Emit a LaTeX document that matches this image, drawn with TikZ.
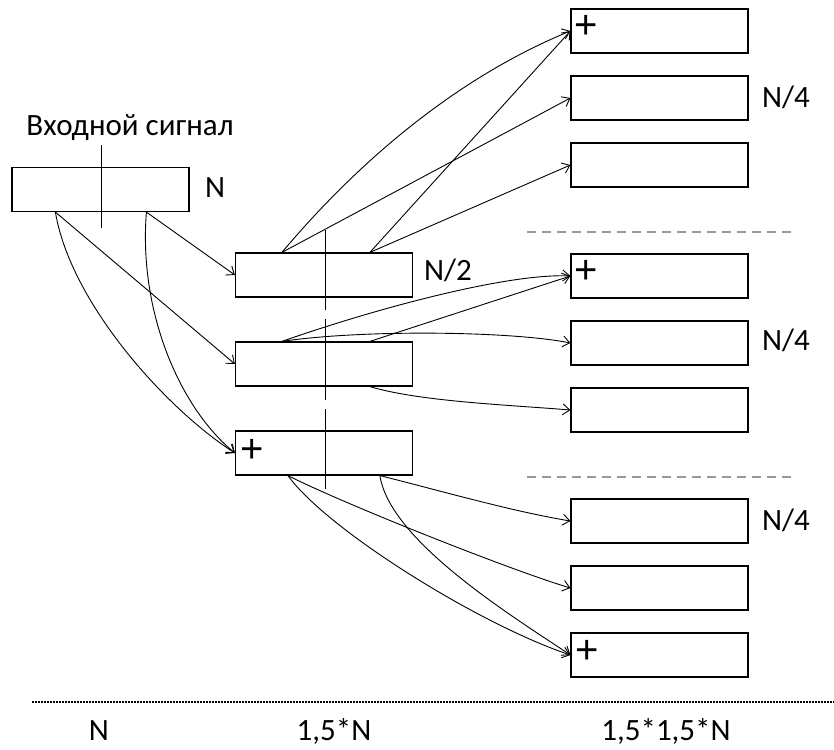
\documentclass[tikz,border=0pt]{standalone}
\usepackage{fontspec}
\setmainfont{Carlito}
\newfontfamily\plusfont{Liberation Sans}
\usetikzlibrary{arrows.meta}
\begin{document}
\begin{tikzpicture}[x=1pt,y=-1pt,
  blk/.style={draw, line width=1.2pt, minimum width=177pt, minimum height=44pt, inner sep=0pt},
  lbl/.style={font=\fontsize{31}{34}\selectfont, inner sep=0pt},
  plus/.style={font=\plusfont\fontsize{40}{42}\selectfont, inner sep=0pt},
  arr/.style={line width=0.9pt, -{Straight Barb[length=7pt,width=11pt,line width=0.9pt]}},
  sep/.style={draw=black!40, line width=1.6pt, dash pattern=on 9pt off 6pt},
  axis/.style={line width=2pt, dash pattern=on 1.5pt off 1.5pt},
  cut/.style={line width=1pt}]
\useasboundingbox (0,0) rectangle (834,749);
% left box
\node[blk] (L) at (100.5,189.5) {};
\node[lbl] (inlbl) at (130,128) {Входной сигнал};
\node[lbl, anchor=west] (nL) at (205,188) {N};
\coordinate (Lt) at (101,145);
\coordinate (Lbt) at (101,228);
\draw[cut] (Lt) -- (Lbt);
% middle boxes
\node[blk] (M1) at (324,275) {};
\node[blk] (M2) at (324,364) {};
\node[blk] (M3) at (324,453) {};
\node[lbl, anchor=west] (nM) at (424,270) {N/2};
\node[plus] (pM) at (252,451) {+};
\coordinate (c1a) at (325,230); \coordinate (c1b) at (325,310);
\coordinate (c2a) at (325,319); \coordinate (c2b) at (325,400);
\coordinate (c3a) at (325,409); \coordinate (c3b) at (325,489);
\draw[cut] (c1a) -- (c1b);
\draw[cut] (c2a) -- (c2b);
\draw[cut] (c3a) -- (c3b);
% right boxes
\foreach \i/\y in {1/31,2/98,3/165,4/276,5/343,6/410,7/521,8/588,9/655}
  \node[blk] (R\i) at (659.5,\y) {};
\node[plus] (p1) at (586,27) {+};
\node[plus] (p4) at (586,272) {+};
\node[plus] (p9) at (587,652) {+};
\node[lbl, anchor=west] (n1) at (762,97) {N/4};
\node[lbl, anchor=west] (n2) at (762,340) {N/4};
\node[lbl, anchor=west] (n3) at (762,520) {N/4};
% gray separators
\coordinate (s1a) at (527,232); \coordinate (s1b) at (792,232);
\coordinate (s2a) at (527,477); \coordinate (s2b) at (792,477);
\draw[sep] (s1a) -- (s1b);
\draw[sep] (s2a) -- (s2b);
% connection points
\coordinate (La) at ([xshift=44pt]L.south west);
\coordinate (Lb) at ([xshift=135pt]L.south west);
\coordinate (Ma1) at ([xshift=47pt]M1.north west);
\coordinate (Mb1) at ([xshift=135pt]M1.north west);
\coordinate (Ma2) at ([xshift=47pt]M2.north west);
\coordinate (Mb2) at ([xshift=135pt]M2.north west);
\coordinate (Mc2) at ([xshift=135pt]M2.south west);
\coordinate (Ma3) at ([xshift=53pt]M3.south west);
\coordinate (Mb3) at ([xshift=145pt]M3.south west);
% left -> middle
\draw[arr] (Lb) -- (M1.west);
\draw[arr] (La) -- (M2.west);
\draw[arr] (La) .. controls +(15,90) and +(-70,-45) .. (M3.west);
\draw[arr] (Lb) .. controls +(-8,100) and +(-55,-45) .. (M3.west);
% middle box 1
\draw[arr] (Ma1) .. controls +(80,-95) and +(-110,45) .. (R1.west);
\draw[arr] (Ma1) -- (R2.west);
\draw[arr] (Mb1) -- (R1.west);
\draw[arr] (Mb1) -- (R3.west);
% middle box 2
\draw[arr] (Ma2) .. controls +(100,-35) and +(-60,-3) .. (R4.west);
\draw[arr] (Mb2) -- (R4.west);
\draw[arr] (Ma2) .. controls +(80,-12) and +(-60,-12) .. (R5.west);
\draw[arr] (Mc2) .. controls +(50,15) and +(-60,-5) .. (R6.west);
% middle box 3
\draw[arr] (Mb3) .. controls +(60,15) and +(-60,-10) .. (R7.west);
\draw[arr] (Ma3) .. controls +(60,30) and +(-60,-18) .. (R8.west);
\draw[arr] (Ma3) .. controls +(40,55) and +(-90,-30) .. (R9.west);
\draw[arr] (Mb3) .. controls +(10,65) and +(-60,-40) .. (R9.west);
% bottom axis
\coordinate (ax1) at (32,702); \coordinate (ax2) at (834,702);
\draw[axis] (ax1) -- (ax2);
\node[lbl] (b1) at (99,731) {N};
\node[lbl] (b2) at (334,731) {1,5*N};
\node[lbl] (b3) at (666,731) {1,5*1,5*N};
\end{tikzpicture}
\end{document}
